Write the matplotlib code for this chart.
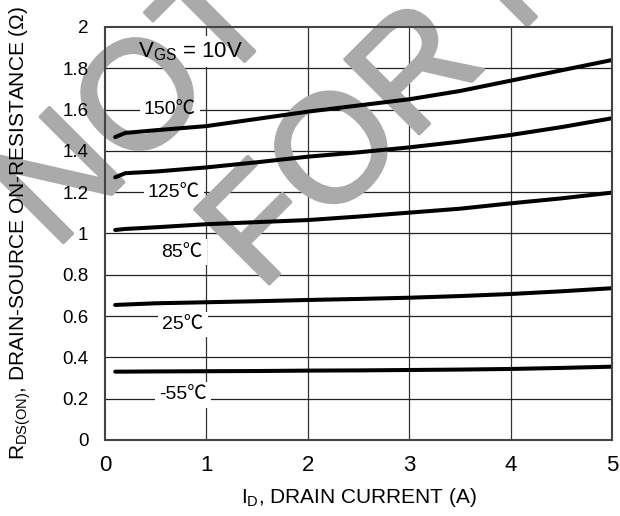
import numpy as np
import matplotlib.pyplot as plt
import matplotlib.patheffects as pe

plt.rcParams['font.family'] = ['Liberation Sans', 'Noto Sans CJK SC', 'DejaVu Sans']
plt.rcParams['mathtext.fontset'] = 'custom'
plt.rcParams['mathtext.rm'] = 'Liberation Sans'
plt.rcParams['mathtext.default'] = 'rm'

# Drain current (A)
corrente = [0.1, 0.2, 0.5, 1, 1.5, 2, 2.5, 3, 3.5, 4, 4.5, 5]

# RDS(on) (ohm) for each junction temperature
r_150 = [1.467, 1.487, 1.50, 1.52, 1.555, 1.59, 1.62, 1.65, 1.69, 1.74, 1.79, 1.84]
r_125 = [1.272, 1.292, 1.30, 1.32, 1.345, 1.372, 1.393, 1.417, 1.445, 1.477, 1.515, 1.558]
r_85 = [1.017, 1.022, 1.03, 1.045, 1.055, 1.065, 1.082, 1.101, 1.12, 1.146, 1.17, 1.198]
r_25 = [0.654, 0.656, 0.662, 0.667, 0.672, 0.678, 0.683, 0.689, 0.697, 0.707, 0.72, 0.735]
r_m55 = [0.331, 0.331, 0.332, 0.333, 0.334, 0.336, 0.337, 0.339, 0.341, 0.344, 0.349, 0.355]
curvas = [r_150, r_125, r_85, r_25, r_m55]

temperaturas = ['150℃', '125℃', '85℃', '25℃', '-55℃']
x_ticks = [0, 1, 2, 3, 4, 5]
y_ticks = [0, 0.2, 0.4, 0.6, 0.8, 1, 1.2, 1.4, 1.6, 1.8, 2]
y_ticklabels = ['0', '0.2', '0.4', '0.6', '0.8', '1', '1.2', '1.4', '1.6', '1.8', '2']

# where each temperature label sits (data coords)
lab_x = [0.64, 0.68, 0.76, 0.77, 0.77]
lab_y = [1.6, 1.2, 0.91, 0.56, 0.218]

fig = plt.figure(figsize=(6.2, 5.16), dpi=100)
ax = fig.add_axes([0.1694, 0.1473, 0.8177, 0.8004])
ax.set_xlim(0, 5)
ax.set_ylim(0, 2)

# grid drawn by hand so the labels can break it
for xv in x_ticks[1:-1]:
    ax.axvline(xv, color='#333333', lw=0.9, zorder=1)
for yv in y_ticks[1:-1]:
    ax.axhline(yv, color='#222222', lw=0.9, zorder=1)

for c in curvas:
    ax.plot(corrente, c, color='black', lw=2.9, solid_capstyle='round', zorder=3)

for t, lx, ly in zip(temperaturas, lab_x, lab_y):
    ax.text(lx, ly, t, fontsize=14, ha='center', va='center', color='white',
            bbox=dict(fc='white', ec='none', pad=3), zorder=2)
    ax.text(lx, ly, t, fontsize=14, ha='center', va='center', color='black', zorder=4)

ax.text(0.33, 1.88, 'V$_{GS}$ = 10V', fontsize=16, ha='left', va='center', color='white',
        bbox=dict(fc='white', ec='none', pad=3), zorder=2)
ax.text(0.33, 1.88, 'V$_{GS}$ = 10V', fontsize=16, ha='left', va='center', color='black', zorder=4)

# watermark
wm = dict(color='#aaaaaa', fontsize=110, rotation=45, rotation_mode='anchor', ha='left',
          va='baseline', transform=fig.transFigure, clip_on=False, zorder=2.5,
          path_effects=[pe.withStroke(linewidth=2.5, foreground='#aaaaaa')])
ax.text(0.088, 0.513, 'NOT RECOMMENDED', **wm)
ax.text(0.42, 0.433, 'FOR NEW DESIGN', **wm)

ax.set_xticks(x_ticks)
ax.set_xticklabels([str(v) for v in x_ticks], fontsize=16)
ax.set_yticks(y_ticks)
ax.set_yticklabels(y_ticklabels, fontsize=13.5)
ax.tick_params(axis='both', length=0)
ax.tick_params(axis='x', pad=11)
ax.tick_params(axis='y', pad=12)
ax.xaxis.set_zorder(5)
ax.yaxis.set_zorder(5)

for s in ax.spines.values():
    s.set_color('#444444')
    s.set_linewidth(1.5)
    s.set_zorder(3.5)

ax.set_xlabel('I$_{D}$, DRAIN CURRENT (A)', fontsize=15)
ax.set_ylabel('R$_{DS(ON)}$, DRAIN-SOURCE ON-RESISTANCE (Ω)', fontsize=15)
ax.xaxis.set_label_coords(0.5, -0.112)
ax.yaxis.set_label_coords(-0.142, 0.5)

fig.savefig('out.png', dpi=100)
